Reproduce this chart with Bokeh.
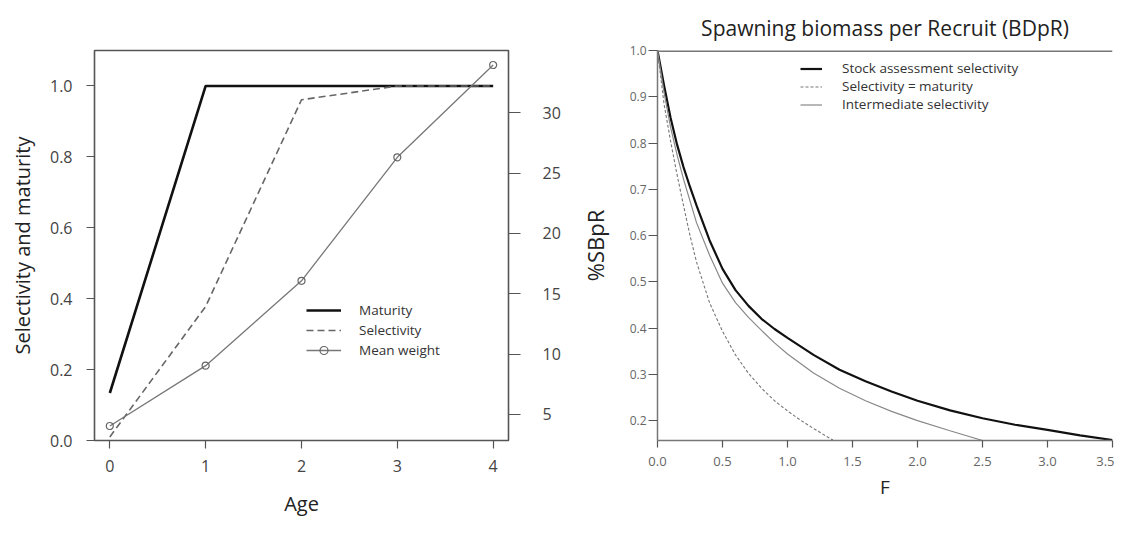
from bokeh.plotting import figure
from bokeh.models import Range1d, LinearAxis, FixedTicker, Legend, LegendItem, Title, Span
from bokeh.layouts import row
from bokeh.embed import file_html
from bokeh.resources import INLINE

# ---------------- data: left panel ----------------
ages = [0, 1, 2, 3, 4]
maturity = [0.134, 1.0, 1.0, 1.0, 1.0]
selectivity = [0.01, 0.378, 0.961, 1.0, 1.0]
mean_weight = [4.04, 9.04, 16.07, 26.3, 33.95]

age_ticks = [0, 1, 2, 3, 4]
age_labels = ["0", "1", "2", "3", "4"]
sel_ticks = [0.0, 0.2, 0.4, 0.6, 0.8, 1.0]
sel_labels = ["0.0", "0.2", "0.4", "0.6", "0.8", "1.0"]
wt_ticks = [5, 10, 15, 20, 25, 30]
wt_labels = ["5", "10", "15", "20", "25", "30"]

# ---------------- data: right panel ----------------
F_stock = [0, 0.05, 0.1, 0.15, 0.2, 0.25, 0.3, 0.4, 0.5, 0.6, 0.7, 0.8, 0.9, 1.0,
           1.2, 1.4, 1.6, 1.8, 2.0, 2.25, 2.5, 2.75, 3.0, 3.25, 3.5]
sbpr_stock = [1.0, 0.925, 0.855, 0.797, 0.748, 0.705, 0.665, 0.59, 0.528, 0.482, 0.448,
              0.42, 0.398, 0.379, 0.342, 0.31, 0.285, 0.263, 0.243, 0.222, 0.205, 0.191,
              0.18, 0.168, 0.158]

F_inter = [0, 0.05, 0.1, 0.15, 0.2, 0.25, 0.3, 0.4, 0.5, 0.6, 0.7, 0.8, 0.9, 1.0,
           1.2, 1.4, 1.6, 1.8, 2.0, 2.25, 2.5]
sbpr_inter = [1.0, 0.91, 0.835, 0.775, 0.722, 0.675, 0.628, 0.558, 0.497, 0.455, 0.423,
              0.395, 0.368, 0.344, 0.303, 0.27, 0.243, 0.22, 0.2, 0.178, 0.157]

F_mat = [0, 0.05, 0.1, 0.15, 0.2, 0.25, 0.3, 0.4, 0.5, 0.6, 0.7, 0.8, 0.9, 1.0,
         1.1, 1.2, 1.3, 1.35]
sbpr_mat = [1.0, 0.885, 0.805, 0.732, 0.665, 0.6, 0.543, 0.455, 0.393, 0.342, 0.302,
            0.27, 0.243, 0.221, 0.201, 0.183, 0.166, 0.158]

F_ticks = [0, 0.5, 1.0, 1.5, 2.0, 2.5, 3.0, 3.5]
F_labels = ["0.0", "0.5", "1.0", "1.5", "2.0", "2.5", "3.0", "3.5"]
pct_ticks = [0.2, 0.3, 0.4, 0.5, 0.6, 0.7, 0.8, 0.9, 1.0]
pct_labels = ["0.2", "0.3", "0.4", "0.5", "0.6", "0.7", "0.8", "0.9", "1.0"]

title_text = "Spawning biomass per Recruit (BDpR)"

FONT = "Open Sans"


def style_axis(ax, ticks, labels, size, color, tick_out, standoff, line_color=None):
    ax.ticker = FixedTicker(ticks=ticks)
    ax.major_label_overrides = {t: l for t, l in zip(ticks, labels)}
    ax.major_label_text_font = FONT
    ax.major_label_text_font_size = size
    ax.major_label_text_color = color
    ax.major_tick_out = tick_out
    ax.major_tick_in = 0
    ax.major_tick_line_color = "#555555"
    ax.major_tick_line_width = 1.2
    ax.minor_tick_line_color = None
    ax.major_label_standoff = standoff
    ax.axis_line_color = line_color
    ax.axis_line_width = 1.5
    ax.axis_label_text_font = FONT
    ax.axis_label_text_font_style = "normal"
    ax.axis_label_text_color = "#222222"


# ================= left panel =================
p1 = figure(width=570, height=519,
            min_border_left=94, min_border_right=62,
            min_border_top=49, min_border_bottom=78,
            x_range=Range1d(-0.16, 4.16), y_range=Range1d(0, 1.1),
            output_backend="svg", toolbar_location=None,
            x_axis_label="Age", y_axis_label="Selectivity and maturity")
p1.extra_y_ranges = {"w": Range1d(2.84, 35.15)}
p1.grid.visible = False
p1.outline_line_color = "#555555"
p1.outline_line_width = 1.6
p1.outline_line_alpha = 1.0
p1.background_fill_color = "white"
p1.border_fill_color = "white"

style_axis(p1.xaxis[0], age_ticks, age_labels, "16px", "#444444", 8, 11)
p1.xaxis[0].axis_label_text_font_size = "20px"
p1.xaxis[0].axis_label_standoff = 15
style_axis(p1.yaxis[0], sel_ticks, sel_labels, "16px", "#444444", 8, 14)
p1.yaxis[0].axis_label_text_font_size = "20px"
p1.yaxis[0].axis_label_standoff = 11

ax_w = LinearAxis(y_range_name="w")
style_axis(ax_w, wt_ticks, wt_labels, "16px", "#444444", 12, 22)
p1.add_layout(ax_w, "right")

r_mat = p1.line(ages, maturity, line_color="#111111", line_width=2.6)
r_sel = p1.line(ages, selectivity, line_color="#666666", line_width=1.6, line_dash="7 4")
r_wl = p1.line(ages, mean_weight, y_range_name="w", line_color="#777777", line_width=1.3)
r_wp = p1.scatter(ages, mean_weight, y_range_name="w", marker="circle", size=7,
                  line_color="#666666", line_width=1.2, fill_alpha=0)

leg1 = Legend(items=[LegendItem(label="Maturity", renderers=[r_mat]),
                     LegendItem(label="Selectivity", renderers=[r_sel]),
                     LegendItem(label="Mean weight", renderers=[r_wl, r_wp])],
              location=(212, 80), orientation="vertical",
              glyph_width=35, glyph_height=20, label_height=20, spacing=0,
              label_standoff=18, padding=0, margin=0,
              border_line_color=None, background_fill_alpha=0,
              label_text_font=FONT, label_text_font_size="13.5px",
              label_text_color="#333333")
p1.add_layout(leg1, "center")

# ================= right panel =================
p2 = figure(width=544, height=519,
            min_border_left=87, min_border_right=2,
            min_border_top=50, min_border_bottom=62,
            x_range=Range1d(0, 3.5), y_range=Range1d(0.157, 1.0),
            output_backend="svg", toolbar_location=None,
            x_axis_label="F", y_axis_label="%SBpR")
p2.grid.visible = False
p2.outline_line_color = None
p2.background_fill_color = "white"
p2.border_fill_color = "white"

style_axis(p2.xaxis[0], F_ticks, F_labels, "13px", "#666666", 7, 9, line_color="#777777")
p2.xaxis[0].axis_label_text_font_size = "19px"
p2.xaxis[0].axis_label_standoff = 5
style_axis(p2.yaxis[0], pct_ticks, pct_labels, "12px", "#666666", 9, 2, line_color="#777777")
p2.yaxis[0].axis_label_text_font_size = "22px"
p2.yaxis[0].axis_label_standoff = 17

p2.add_layout(Span(location=1.0, dimension="width", line_color="#777777", line_width=3))

p2.title = Title(text=title_text, align="center", offset=-4,
                 text_font=FONT, text_font_size="21px", text_font_style="normal",
                 text_color="#222222", standoff=18)

r_stock = p2.line(F_stock, sbpr_stock, line_color="#111111", line_width=2.2)
r_m = p2.line(F_mat, sbpr_mat, line_color="#777777", line_width=1.1, line_dash="3 2")
r_int = p2.line(F_inter, sbpr_inter, line_color="#888888", line_width=1.2)

leg2 = Legend(items=[LegendItem(label="Stock assessment selectivity", renderers=[r_stock]),
                     LegendItem(label="Selectivity = maturity", renderers=[r_m]),
                     LegendItem(label="Intermediate selectivity", renderers=[r_int])],
              location=(143, 327), orientation="vertical",
              glyph_width=22, glyph_height=17, label_height=17, spacing=0,
              label_standoff=20, padding=0, margin=0,
              border_line_color=None, background_fill_alpha=0,
              label_text_font=FONT, label_text_font_size="13.5px",
              label_text_color="#333333")
p2.add_layout(leg2, "center")

layout = row(p1, p2)
open("out.html", "w").write(file_html(layout, INLINE))
